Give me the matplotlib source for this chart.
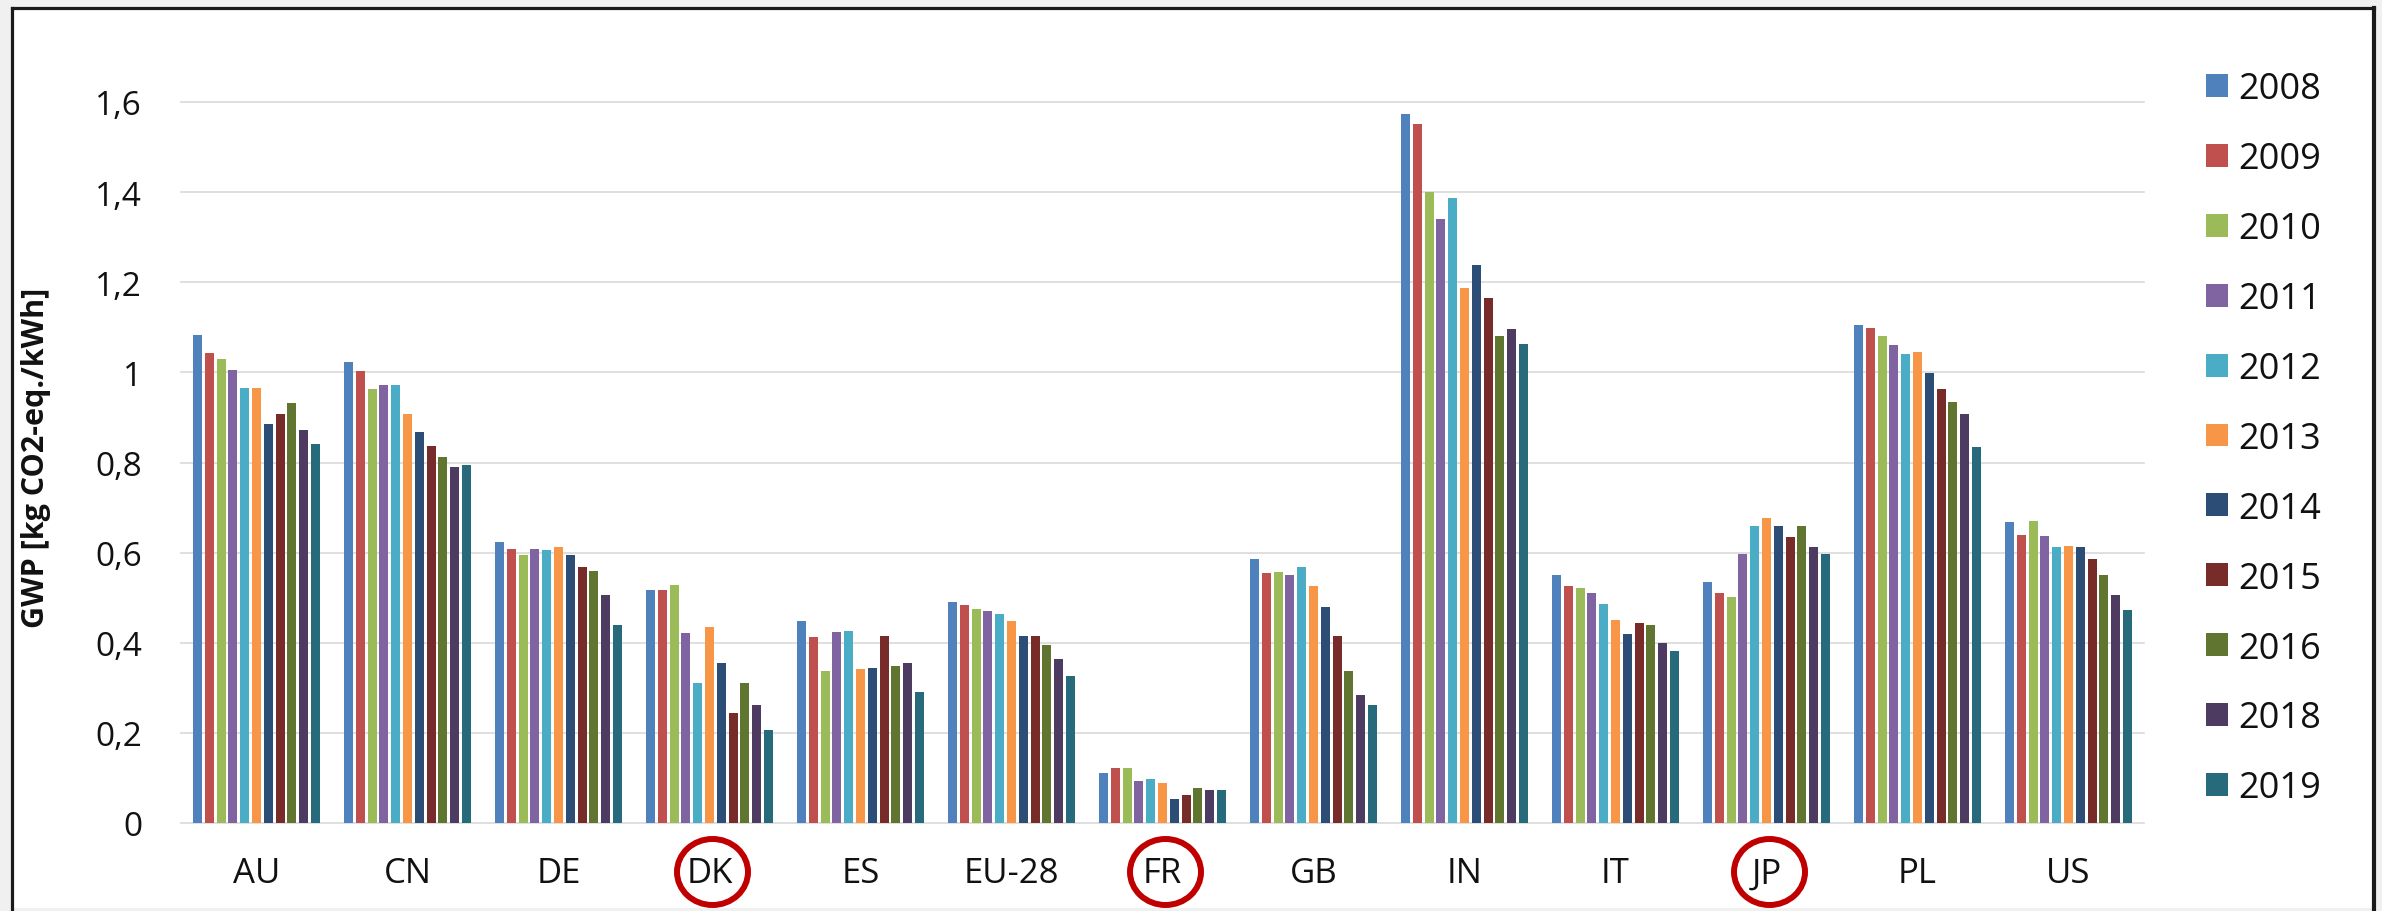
import matplotlib
matplotlib.use("Agg")
import matplotlib.pyplot as plt
import numpy as np
from matplotlib.patches import Ellipse, Rectangle
from matplotlib.lines import Line2D
from matplotlib.transforms import IdentityTransform

plt.rcParams['font.family'] = ['Open Sans', 'DejaVu Sans']

countries = ["AU", "CN", "DE", "DK", "ES", "EU-28", "FR", "GB", "IN", "IT", "JP", "PL", "US"]
years = ["2008", "2009", "2010", "2011", "2012", "2013", "2014", "2015", "2016", "2018", "2019"]

AU = [1.084, 1.043, 1.030, 1.006, 0.966, 0.966, 0.885, 0.908, 0.932, 0.872, 0.841]
CN = [1.022, 1.003, 0.963, 0.972, 0.972, 0.908, 0.868, 0.837, 0.813, 0.790, 0.795]
DE = [0.623, 0.609, 0.594, 0.609, 0.605, 0.613, 0.594, 0.569, 0.560, 0.506, 0.440]
DK = [0.517, 0.517, 0.529, 0.421, 0.310, 0.435, 0.354, 0.245, 0.310, 0.262, 0.206]
ES = [0.448, 0.412, 0.338, 0.423, 0.427, 0.341, 0.345, 0.415, 0.348, 0.354, 0.290]
EU28 = [0.490, 0.483, 0.475, 0.471, 0.463, 0.448, 0.415, 0.415, 0.396, 0.365, 0.326]
FR = [0.110, 0.121, 0.121, 0.093, 0.098, 0.089, 0.054, 0.062, 0.077, 0.074, 0.074]
GB = [0.585, 0.554, 0.557, 0.550, 0.569, 0.525, 0.479, 0.415, 0.338, 0.283, 0.262]
IN = [1.573, 1.551, 1.400, 1.341, 1.388, 1.187, 1.239, 1.164, 1.081, 1.097, 1.062]
IT = [0.550, 0.525, 0.521, 0.510, 0.486, 0.450, 0.419, 0.443, 0.439, 0.400, 0.381]
JP = [0.534, 0.510, 0.502, 0.597, 0.659, 0.676, 0.659, 0.635, 0.659, 0.612, 0.596]
PL = [1.105, 1.099, 1.081, 1.061, 1.040, 1.045, 0.999, 0.963, 0.935, 0.907, 0.834]
US = [0.667, 0.640, 0.671, 0.636, 0.613, 0.615, 0.613, 0.585, 0.550, 0.506, 0.472]

highlighted = ["DK", "FR", "JP"]

yticks = [0, 0.2, 0.4, 0.6, 0.8, 1.0, 1.2, 1.4, 1.6]
ytick_labels = ["0", "0,2", "0,4", "0,6", "0,8", "1", "1,2", "1,4", "1,6"]

colors = ["#4F81BD", "#C0504D", "#9BBB59", "#8064A2", "#4BACC6", "#F79646",
          "#2C4D75", "#772C2A", "#5F7530", "#4D3B62", "#276A7C"]

data = np.array([AU, CN, DE, DK, ES, EU28, FR, GB, IN, IT, JP, PL, US])

W, H = 2382, 912
fig = plt.figure(figsize=(W / 100, H / 100), dpi=100)
fig.patch.set_facecolor("#f0f0f0")

# white panel with dark frame (bottom cut off)
fig.patches.append(Rectangle((11.5 / W, 3 / H), (2374 - 11.5) / W, (903 - 3) / H,
                             transform=fig.transFigure, facecolor="white",
                             edgecolor="none", zorder=-10))
fc = "#1a1a1a"
fig.lines.append(Line2D([11.5 / W, 11.5 / W], [0, 903 / H], transform=fig.transFigure, color=fc, lw=2.3))
fig.lines.append(Line2D([11.5 / W, 2374 / W], [903 / H, 903 / H], transform=fig.transFigure, color=fc, lw=2.3))
fig.lines.append(Line2D([2374 / W, 2374 / W], [0, 903 / H], transform=fig.transFigure, color=fc, lw=3.0))

ax = fig.add_axes([181 / W, (H - 824) / H, 1963 / W, (824 - 103) / H])
ax.set_facecolor("none")

n = len(years)
slot = 0.86 / n
bw = slot * 0.76
x = np.arange(len(countries))
for j, (yr, c) in enumerate(zip(years, colors)):
    ax.bar(x + (j - (n - 1) / 2) * slot, data[:, j], width=bw, color=c, label=yr, zorder=3)

ax.set_xlim(-0.5, len(countries) - 0.5)
ax.set_ylim(0, 1.6)
ax.set_yticks(yticks)
ax.set_yticklabels(ytick_labels)
ax.set_xticks(x)
ax.set_xticklabels(countries)
ax.tick_params(axis="y", length=0, pad=28, labelsize=24, labelcolor="#111111")
ax.tick_params(axis="x", length=0, pad=24, labelsize=25, labelcolor="#111111")
ax.yaxis.grid(True, color="#d9d9d9", lw=1.2)
ax.set_axisbelow(True)
for gl in ax.get_ygridlines():
    gl.set_clip_on(False)
for s in ["top", "left", "right", "bottom"]:
    ax.spines[s].set_visible(False)

ax.set_ylabel("GWP [kg CO2-eq./kWh]", fontsize=22, fontweight="bold", color="#111111", labelpad=0)
ax.yaxis.set_label_coords((51 - 181) / 1963, 0.5 - (458 - 463.5) / 721)

handles, labels = ax.get_legend_handles_labels()
leg = fig.legend(handles, labels, loc="upper left", bbox_to_anchor=(2206 / W, (H - 72) / H),
                 frameon=False, fontsize=26, handlelength=0.6, handleheight=0.6,
                 handletextpad=0.3, labelspacing=0.94, borderpad=0, borderaxespad=0)
for t in leg.get_texts():
    t.set_color("#111111")

# red circles around highlighted country labels
for name in highlighted:
    i = countries.index(name)
    px = ax.transData.transform((i, 0))[0] + 3
    e = Ellipse((px, 39), 71, 66, transform=IdentityTransform(), fill=False,
                edgecolor="#C00000", lw=4.3, zorder=10)
    fig.patches.append(e)

fig.savefig("out.png", dpi=100, facecolor=fig.get_facecolor())
